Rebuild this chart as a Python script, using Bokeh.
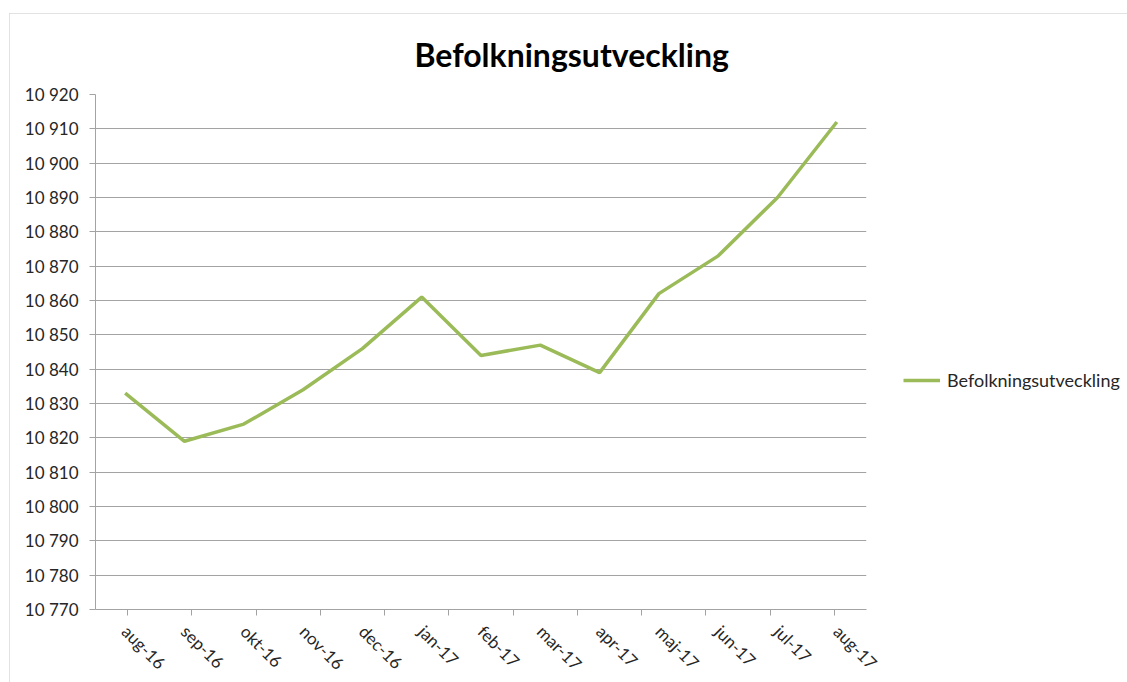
import math
from bokeh.plotting import figure
from bokeh.models import (Range1d, LinearAxis, CategoricalAxis, FixedTicker, Legend,
                          LegendItem, Title, ColumnDataSource, FactorRange, Grid)
from bokeh.embed import file_html
from bokeh.resources import INLINE

# ---- data ----
months = ["aug-16", "sep-16", "okt-16", "nov-16", "dec-16", "jan-17", "feb-17",
          "mar-17", "apr-17", "maj-17", "jun-17", "jul-17", "aug-17"]
population = [10833, 10819, 10824, 10834, 10846, 10861, 10844,
              10847, 10839, 10862, 10873, 10890, 10912]
y_ticks = [10770, 10780, 10790, 10800, 10810, 10820, 10830, 10840,
           10850, 10860, 10870, 10880, 10890, 10900, 10910, 10920]
y_tick_labels = ["10 770", "10 780", "10 790", "10 800", "10 810", "10 820", "10 830",
                 "10 840", "10 850", "10 860", "10 870", "10 880", "10 890", "10 900",
                 "10 910", "10 920"]
title_text = "Befolkningsutveckling"
series_name = "Befolkningsutveckling"

FONT = "Lato"
TEXT = "#262626"
GRID = "#a3a3a3"
GREEN = "#9bbb59"

src = ColumnDataSource(dict(month=months, population=population))

p = figure(frame_width=771, frame_height=515,
           x_range=FactorRange(*months), y_range=Range1d(y_ticks[0], y_ticks[-1]),
           output_backend="svg", toolbar_location=None, title=None,
           x_axis_location=None, y_axis_location=None,
           min_border_left=86, min_border_right=260, min_border_top=80, min_border_bottom=73)
p.margin = (13, 0, 0, 9)
p.styles = {"outline": "1px solid #d9d9d9", "outline-offset": "-1px"}
p.outline_line_color = None
p.background_fill_color = "white"
p.border_fill_color = "white"
for g in p.xgrid:
    g.visible = False
for g in p.ygrid:
    g.visible = False

# helper range whose factor centres fall on the category boundaries
bounds = ["b%d" % i for i in range(len(months) + 1)]
p.extra_x_ranges = {"bounds": FactorRange(*bounds, range_padding=-1,
                                          range_padding_units="absolute")}

# y axis
yax = LinearAxis(ticker=FixedTicker(ticks=y_ticks),
                 major_label_overrides={t: l for t, l in zip(y_ticks, y_tick_labels)})
yax.axis_line_color = GRID
yax.major_tick_line_color = GRID
yax.major_tick_out = 6
yax.major_tick_in = 0
yax.minor_tick_line_color = None
yax.major_label_standoff = 11
yax.major_label_text_font = FONT
yax.major_label_text_font_size = "17px"
yax.major_label_text_color = TEXT
p.add_layout(yax, "left")

p.add_layout(Grid(dimension=1, ticker=yax.ticker, grid_line_color=GRID, grid_line_width=1))

# x axis: boundary ticks
tax = CategoricalAxis(x_range_name="bounds")
tax.axis_line_color = GRID
tax.major_tick_line_color = GRID
tax.major_tick_out = 6
tax.major_tick_in = 0
tax.major_label_text_font_size = "0px"
tax.major_label_text_color = None
tax.major_label_standoff = 0
p.add_layout(tax, "below")

# x axis: category labels
xax = CategoricalAxis()
xax.axis_line_color = None
xax.major_tick_line_color = None
xax.major_tick_out = 0
xax.major_tick_in = 0
xax.major_label_orientation = -math.pi / 4
xax.major_label_standoff = 13
xax.major_label_text_font = FONT
xax.major_label_text_font_size = "17px"
xax.major_label_text_color = TEXT
p.add_layout(xax, "below")

r = p.line(x="month", y="population", source=src, line_color=GREEN, line_width=3.5)

legend = Legend(items=[LegendItem(label=series_name, renderers=[r])], location=(37, 218))
legend.border_line_color = None
legend.background_fill_alpha = 0
legend.glyph_width = 37
legend.label_standoff = 7
legend.label_text_font = FONT
legend.label_text_font_size = "18px"
legend.label_text_color = TEXT
p.add_layout(legend, "right")

title = Title(text=title_text, align="left", offset=319, vertical_align="middle",
              standoff=40, text_font=FONT, text_font_style="bold",
              text_font_size="32px", text_color="#000000")
p.add_layout(title, "above")

open("out.html", "w").write(file_html(p, INLINE))
